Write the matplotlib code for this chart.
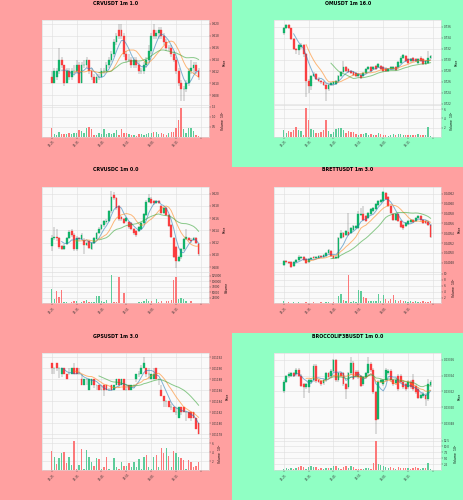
import numpy as np
import pandas as pd
import matplotlib
matplotlib.use('Agg')
import matplotlib.pyplot as plt
from matplotlib.patches import Rectangle
from matplotlib.ticker import MultipleLocator, FuncFormatter, FixedLocator

# x axis labels (1m candles, one label every 10 candles)
time_labels = ['15:25', '15:35', '15:45', '15:55', '16:05', '16:15']

# ---- CRVUSDT 1m ----
crv_open = [0.611,0.610,0.611,0.612,0.614,0.613,0.610,0.612,0.611,0.612,
            0.612,0.613,0.610,0.613,0.613,0.614,0.612,0.611,0.610,0.611,
            0.611,0.612,0.612,0.613,0.614,0.615,0.617,0.619,0.619,0.618,
            0.615,0.614,0.614,0.613,0.614,0.613,0.612,0.612,0.613,0.614,
            0.6155,0.619,0.618,0.6185,0.619,0.618,0.617,0.616,0.616,0.615,
            0.614,0.612,0.610,0.609,0.609,0.610,0.612,0.6125,0.613,0.612]
crv_high = [0.612,0.6125,0.6125,0.616,0.6145,0.613,0.6125,0.6125,0.6125,0.613,
            0.614,0.6135,0.6135,0.614,0.6145,0.614,0.6125,0.6115,0.6115,0.6115,
            0.6125,0.6125,0.6135,0.6145,0.6155,0.6175,0.6185,0.620,0.620,0.6185,
            0.6155,0.615,0.6145,0.6145,0.6145,0.6135,0.6125,0.6135,0.6145,0.6165,
            0.6185,0.620,0.619,0.6195,0.6195,0.6185,0.6175,0.6165,0.6165,0.6155,
            0.6145,0.6125,0.6105,0.6095,0.6105,0.6125,0.614,0.6135,0.6135,0.6125]
crv_low = [0.610,0.610,0.6105,0.6115,0.6125,0.6095,0.610,0.6105,0.6105,0.6115,
           0.6115,0.610,0.610,0.6125,0.6125,0.6115,0.6105,0.610,0.610,0.6105,
           0.611,0.6115,0.612,0.6125,0.6135,0.6145,0.6165,0.6175,0.6175,0.6145,
           0.6135,0.6135,0.6125,0.6125,0.6125,0.6115,0.6115,0.6115,0.6125,0.6135,
           0.615,0.6175,0.6175,0.6175,0.6175,0.6165,0.6155,0.6155,0.6145,0.6135,
           0.6115,0.6095,0.607,0.607,0.6085,0.6095,0.6115,0.6115,0.6115,0.6105]
crv_close = [0.610,0.612,0.612,0.614,0.613,0.610,0.612,0.611,0.612,0.612,
             0.613,0.610,0.613,0.613,0.614,0.612,0.611,0.610,0.611,0.611,
             0.612,0.612,0.613,0.614,0.615,0.617,0.618,0.618,0.618,0.615,
             0.614,0.614,0.613,0.614,0.613,0.612,0.612,0.613,0.614,0.6155,
             0.618,0.618,0.6185,0.619,0.618,0.617,0.616,0.616,0.615,0.614,
             0.612,0.610,0.609,0.609,0.610,0.612,0.6125,0.613,0.612,0.611]
crv_vol = [0.42,0.12,0.08,0.22,0.12,0.12,0.13,0.17,0.13,0.20,
           0.17,0.33,0.28,0.20,0.42,0.47,0.37,0.08,0.08,0.17,
           0.12,0.38,0.13,0.20,0.13,0.17,0.33,0.08,0.37,0.20,
           0.17,0.12,0.10,0.08,0.05,0.13,0.13,0.10,0.13,0.17,
           0.20,0.22,0.25,0.12,0.20,0.13,0.08,0.20,0.25,0.22,
           0.42,0.83,1.45,0.37,0.17,0.45,0.42,0.28,0.08,0.03]

# ---- OMUSDT 1m ----
om_open = [0.7348,0.7357,0.7363,0.7357,0.7338,0.7320,0.7317,0.7323,0.7326,0.7310,
           0.7261,0.7252,0.7270,0.7274,0.7266,0.7262,0.7260,0.7255,0.7247,0.7255,
           0.7256,0.7256,0.7262,0.7270,0.7278,0.7286,0.7283,0.7280,0.7278,0.7276,
           0.7270,0.7273,0.7270,0.7276,0.7283,0.7286,0.7283,0.7289,0.7287,0.7289,
           0.7286,0.7284,0.7280,0.7283,0.7283,0.7286,0.7286,0.7295,0.7303,0.7307,
           0.7301,0.7297,0.7303,0.7301,0.7295,0.7304,0.7301,0.7292,0.7295,0.7303]
om_high = [0.7360,0.7365,0.7365,0.7358,0.7340,0.7322,0.7328,0.7330,0.7328,0.7312,
           0.7265,0.7272,0.7278,0.7276,0.7268,0.7264,0.7262,0.7257,0.7257,0.7260,
           0.7262,0.7264,0.7272,0.7280,0.7298,0.7288,0.7285,0.7282,0.7280,0.7278,
           0.7276,0.7275,0.7278,0.7285,0.7288,0.7288,0.7289,0.7291,0.7295,0.7291,
           0.7288,0.7286,0.7285,0.7288,0.7289,0.7288,0.7297,0.7306,0.7311,0.7309,
           0.7303,0.7303,0.7305,0.7303,0.7303,0.7306,0.7303,0.7300,0.7316,0.7308]
om_low = [0.7345,0.7355,0.7355,0.7335,0.7318,0.7310,0.7308,0.7320,0.7305,0.7233,
          0.7240,0.7245,0.7268,0.7263,0.7259,0.7256,0.7252,0.7225,0.7244,0.7252,
          0.7253,0.7254,0.7258,0.7268,0.7276,0.7278,0.7276,0.7274,0.7271,0.7268,
          0.7268,0.7265,0.7268,0.7274,0.7281,0.7278,0.7281,0.7282,0.7285,0.7281,
          0.7278,0.7278,0.7278,0.7281,0.7281,0.7279,0.7284,0.7293,0.7301,0.7296,
          0.7293,0.7295,0.7296,0.7296,0.7293,0.7296,0.7290,0.7290,0.7293,0.7301]
om_close = [0.7357,0.7363,0.7357,0.7338,0.7320,0.7317,0.7326,0.7326,0.7310,0.7261,
            0.7252,0.7270,0.7274,0.7266,0.7262,0.7260,0.7255,0.7247,0.7255,0.7258,
            0.7259,0.7262,0.7270,0.7278,0.7286,0.7280,0.7278,0.7276,0.7273,0.7270,
            0.7274,0.7267,0.7276,0.7283,0.7286,0.7280,0.7287,0.7284,0.7293,0.7283,
            0.7280,0.7280,0.7283,0.7286,0.7287,0.7281,0.7295,0.7304,0.7309,0.7298,
            0.7295,0.7301,0.7298,0.7298,0.7301,0.7298,0.7292,0.7298,0.7304,0.7306]
om_vol = [1.5,0.8,1.2,1.0,1.5,2.2,1.6,1.3,0.5,6.3,
          3.6,1.8,1.6,0.8,0.8,1.0,1.5,3.6,1.2,0.6,
          1.0,1.8,2.0,2.0,1.6,0.8,1.3,1.0,1.0,0.6,
          0.5,0.7,0.6,0.8,0.5,0.6,0.5,0.5,0.8,0.6,
          0.4,0.4,0.3,0.5,0.6,0.5,0.6,0.7,0.4,0.5,
          0.4,0.4,0.5,0.5,0.6,0.5,0.5,0.4,2.1,0.2]

# ---- CRVUSDC 1m ----
crvc_open = [0.6114,0.6128,0.6130,0.6128,0.6114,0.6110,0.6118,0.6128,0.6139,0.6133,
             0.6109,0.6128,0.6126,0.6125,0.6116,0.6122,0.6110,0.6119,0.6126,0.6136,
             0.6142,0.6148,0.6153,0.6156,0.6171,0.6197,0.61925,0.6179,0.6162,0.6159,
             0.6155,0.6153,0.6152,0.6142,0.6139,0.6139,0.6142,0.6152,0.6165,0.6187,
             0.6191,0.6188,0.6185,0.6188,0.6179,0.6168,0.6176,0.6165,0.6148,0.6128,
             0.6113,0.6090,0.6096,0.6109,0.6126,0.6128,0.6125,0.6124,0.6128,0.6118]
crvc_high = [0.6133,0.6145,0.6142,0.6130,0.6116,0.6118,0.6130,0.6141,0.6142,0.6135,
             0.6131,0.6130,0.6135,0.6127,0.6123,0.6124,0.6121,0.6130,0.6138,0.6145,
             0.6150,0.6157,0.6158,0.6173,0.6205,0.6203,0.6194,0.6181,0.6164,0.6161,
             0.6162,0.6155,0.6154,0.6144,0.6141,0.6147,0.6154,0.6168,0.6189,0.6199,
             0.6195,0.6190,0.6190,0.6190,0.6181,0.6178,0.6178,0.6167,0.6150,0.6130,
             0.6115,0.6098,0.6111,0.6128,0.6142,0.6130,0.6127,0.6130,0.6130,0.6120]
crvc_low = [0.6106,0.6125,0.6123,0.6110,0.6108,0.6108,0.6116,0.6126,0.6130,0.6107,
            0.6107,0.6123,0.6124,0.6102,0.6114,0.6110,0.6108,0.6117,0.6124,0.6134,
            0.6140,0.6146,0.6151,0.6154,0.6169,0.6190,0.6174,0.6156,0.6155,0.6150,
            0.6153,0.6143,0.6140,0.6132,0.6130,0.6137,0.6140,0.6150,0.6163,0.6185,
            0.6183,0.6182,0.6183,0.6183,0.6166,0.6166,0.6163,0.6145,0.6128,0.6095,
            0.6079,0.6088,0.6094,0.6107,0.6124,0.6122,0.6120,0.6122,0.6117,0.6099]
crvc_close = [0.6128,0.6130,0.6128,0.6113,0.6110,0.6114,0.6128,0.6137,0.6133,0.6109,
              0.6128,0.6126,0.6133,0.6116,0.6120,0.6112,0.6119,0.6128,0.6136,0.6143,
              0.6148,0.6155,0.6156,0.6171,0.6195,0.61925,0.6176,0.6159,0.6159,0.6152,
              0.6160,0.6145,0.6142,0.6136,0.6133,0.6145,0.6152,0.6166,0.6187,0.61925,
              0.6185,0.6185,0.6188,0.6185,0.6168,0.6176,0.6165,0.6147,0.6130,0.6097,
              0.6090,0.6096,0.6109,0.6126,0.6130,0.6124,0.6122,0.6128,0.6119,0.6101]
crvc_vol = [64000,20000,57000,28000,60000,8000,5000,3000,8000,9000,
            9000,3000,5000,12000,15000,8000,7000,6000,35000,32000,
            11000,6000,14000,4000,131000,8000,8000,121000,3000,46000,
            4000,4000,3000,3000,2000,8000,6000,10000,22000,10000,
            13000,3000,20000,5000,13000,4000,11000,9000,14000,107000,
            121000,22000,26000,22000,11000,3000,10000,3000,4000,3000]

# ---- BRETTUSDT 1m ----
brett_open = [0.040475,0.040483,0.040482,0.040481,0.040474,0.040481,0.040486,0.040490,0.040492,0.040488,
              0.040482,0.040488,0.040492,0.040490,0.040490,0.040494,0.040492,0.040494,0.040499,0.040504,
              0.040494,0.040490,0.040490,0.040530,0.040540,0.040537,0.040542,0.040540,0.040547,0.040550,
              0.040550,0.040576,0.040578,0.040574,0.040571,0.040579,0.040585,0.040588,0.040597,0.040602,
              0.040605,0.040622,0.040612,0.040595,0.040579,0.040567,0.040578,0.040564,0.040557,0.040554,
              0.040559,0.040563,0.040567,0.040565,0.040571,0.040574,0.040567,0.040565,0.040563,0.040556]
brett_high = [0.040486,0.040485,0.040484,0.040483,0.040484,0.040488,0.040496,0.040494,0.040494,0.040490,
              0.040490,0.040492,0.040494,0.040494,0.040496,0.040495,0.040498,0.040501,0.040508,0.040506,
              0.040496,0.040494,0.040533,0.040547,0.040542,0.040546,0.040581,0.040552,0.040556,0.040556,
              0.040585,0.040590,0.040595,0.040576,0.040583,0.040590,0.040593,0.040600,0.040607,0.040608,
              0.040626,0.040624,0.040614,0.040597,0.040581,0.040580,0.040580,0.040566,0.040559,0.040563,
              0.040567,0.040569,0.040569,0.040573,0.040576,0.040576,0.040569,0.040567,0.040565,0.040558]
brett_low = [0.040473,0.040479,0.040477,0.040470,0.040472,0.040479,0.040484,0.040488,0.040484,0.040477,
             0.040480,0.040486,0.040487,0.040488,0.040488,0.040489,0.040490,0.040492,0.040497,0.040492,
             0.040488,0.040488,0.040488,0.040528,0.040531,0.040535,0.040535,0.040538,0.040545,0.040548,
             0.040548,0.040574,0.040565,0.040562,0.040569,0.040577,0.040583,0.040586,0.040595,0.040600,
             0.040603,0.040606,0.040593,0.040579,0.040565,0.040565,0.040562,0.040550,0.040546,0.040552,
             0.040557,0.040561,0.040561,0.040563,0.040569,0.040565,0.040559,0.040559,0.040555,0.040531]
brett_close = [0.040483,0.040481,0.040479,0.040472,0.040482,0.040486,0.040492,0.040492,0.040486,0.040479,
               0.040488,0.040490,0.040489,0.040492,0.040494,0.040491,0.040496,0.040499,0.040506,0.040494,
               0.040490,0.040492,0.040531,0.040540,0.040533,0.040544,0.040537,0.040550,0.040554,0.040554,
               0.040578,0.040579,0.040567,0.040564,0.040581,0.040588,0.040591,0.040598,0.040605,0.040606,
               0.040624,0.040608,0.040595,0.040581,0.040567,0.040578,0.040564,0.040552,0.040550,0.040561,
               0.040565,0.040567,0.040563,0.040571,0.040574,0.040567,0.040561,0.040561,0.040557,0.040533]
brett_vol = [0.9,0.3,0.4,0.3,0.4,0.3,0.6,0.2,0.3,0.4,
             0.3,0.3,0.5,0.2,0.3,0.5,0.2,0.4,0.5,0.3,
             0.4,0.3,2.5,3.3,1.2,0.8,9.7,0.6,1.0,0.5,
             4.4,4.3,2.3,2.0,0.9,1.0,0.8,1.0,3.1,0.9,
             2.8,1.5,0.8,1.5,3.0,1.3,0.7,1.2,0.8,1.0,
             0.5,0.9,0.4,0.9,0.6,0.5,1.0,0.5,0.4,1.0]

# ---- GPSUSDT 1m ----
gps_open = [0.01191,0.01190,0.01191,0.01190,0.01189,0.01190,0.01189,0.01189,0.01189,0.01190,
            0.01190,0.01189,0.01188,0.01187,0.01188,0.01186,0.01187,0.01188,0.01187,0.01187,
            0.01186,0.01187,0.01187,0.01186,0.01187,0.01186,0.01187,0.01188,0.01187,0.01188,
            0.01186,0.01187,0.01186,0.01187,0.01188,0.01189,0.01189,0.01190,0.01190,0.01189,
            0.01188,0.01188,0.01190,0.01188,0.01186,0.01185,0.01184,0.01184,0.01183,0.01183,
            0.01182,0.01181,0.01183,0.01183,0.01182,0.01182,0.01182,0.01182,0.01181,0.01180]
gps_high = [0.01191,0.01190,0.01191,0.01190,0.01190,0.01190,0.01189,0.01190,0.01190,0.01191,
            0.01190,0.01190,0.01189,0.01188,0.01188,0.01188,0.01188,0.01188,0.01187,0.01187,
            0.01187,0.01187,0.01187,0.011865,0.01187,0.01187,0.01188,0.01188,0.01188,0.01188,
            0.01187,0.01187,0.01187,0.01187,0.01189,0.011895,0.011905,0.01192,0.01190,0.01190,
            0.01189,0.01190,0.01190,0.01188,0.01187,0.01185,0.01184,0.01184,0.011835,0.01183,
            0.01183,0.01183,0.01183,0.01183,0.01182,0.01182,0.01182,0.01182,0.01181,0.01180]
gps_low = [0.01189,0.01189,0.011895,0.011883,0.011885,0.01189,0.01188,0.01189,0.01189,0.01189,
           0.01189,0.01189,0.01187,0.01187,0.01187,0.01186,0.01187,0.011865,0.01186,0.01186,
           0.01186,0.01185,0.01186,0.01186,0.01186,0.01186,0.01187,0.011865,0.01187,0.01186,
           0.01186,0.01186,0.01186,0.011865,0.011875,0.011885,0.01189,0.01190,0.011885,0.01188,
           0.01188,0.01188,0.01188,0.01187,0.01185,0.01183,0.01183,0.01183,0.011825,0.01182,
           0.011815,0.01181,0.011815,0.01182,0.011805,0.01181,0.011805,0.01181,0.01179,0.01178]
gps_close = [0.01190,0.01190,0.01190,0.01190,0.01190,0.01189,0.01188,0.01189,0.01190,0.01189,
             0.01189,0.01189,0.01187,0.01188,0.01188,0.01188,0.01188,0.01187,0.01187,0.01186,
             0.01186,0.01186,0.01186,0.01186,0.01186,0.01187,0.01188,0.01187,0.01188,0.01186,
             0.01186,0.01186,0.01187,0.01187,0.01189,0.01189,0.01190,0.01191,0.01189,0.01189,
             0.01189,0.01189,0.01188,0.01188,0.01185,0.01184,0.01184,0.01183,0.01183,0.01182,
             0.01182,0.01183,0.01182,0.01182,0.01182,0.01181,0.01181,0.01181,0.01179,0.01178]
gps_vol = [4.3,2.9,1.4,2.6,3.7,4.0,1.5,3.0,1.2,6.4,
           0.3,1.2,4.7,0.2,4.5,3.0,1.9,0.9,2.6,2.4,
           0.2,0.8,3.0,0.2,0.1,2.6,0.8,0.2,1.7,0.9,
           1.0,1.6,0.8,1.9,0.7,2.4,0.3,2.8,3.4,0.8,
           0.2,2.8,3.4,0.8,5.0,3.9,4.8,3.2,0.8,4.3,
           3.9,2.8,2.6,2.2,0.3,2.2,1.7,0.7,1.0,1.9]

# ---- BROCCOLIF3BUSDT 1m ----
broc_open = [0.033520,0.033532,0.033539,0.033540,0.033543,0.033542,0.033547,0.033540,0.033529,0.033525,
             0.033525,0.033532,0.033534,0.033552,0.033534,0.033533,0.033530,0.033534,0.033543,0.033540,
             0.033546,0.033560,0.033534,0.033543,0.033543,0.033529,0.033525,0.033543,0.033556,0.033545,
             0.033545,0.033539,0.033529,0.033538,0.033543,0.033555,0.033547,0.033519,0.033486,0.033532,
             0.033529,0.033534,0.033543,0.033546,0.033534,0.033530,0.033540,0.033540,0.033532,0.033529,
             0.033525,0.033532,0.033534,0.033527,0.033523,0.033512,0.033514,0.033516,0.033510,0.033528]
broc_high = [0.033534,0.033541,0.033544,0.033545,0.033545,0.033549,0.033549,0.033542,0.033531,0.033531,
             0.033536,0.033537,0.033554,0.033554,0.033536,0.033535,0.033536,0.033545,0.033545,0.033548,
             0.033561,0.033561,0.033545,0.033545,0.033545,0.033531,0.033545,0.033563,0.033558,0.033547,
             0.033547,0.033541,0.033540,0.033545,0.033563,0.033557,0.033549,0.033521,0.033534,0.033536,
             0.033536,0.033549,0.033548,0.033548,0.033536,0.033536,0.033542,0.033542,0.033534,0.033531,
             0.033534,0.033534,0.033542,0.033529,0.033525,0.033518,0.033519,0.033518,0.033536,0.033534]
broc_low = [0.033518,0.033530,0.033537,0.033538,0.033538,0.033540,0.033538,0.033525,0.033512,0.033523,
            0.033518,0.033530,0.033532,0.033531,0.033530,0.033527,0.033528,0.033532,0.033536,0.033538,
            0.033544,0.033532,0.033532,0.033538,0.033527,0.033510,0.033523,0.033541,0.033534,0.033537,
            0.033536,0.033525,0.033527,0.033536,0.033541,0.033545,0.033517,0.033466,0.033484,0.033530,
            0.033527,0.033532,0.033541,0.033532,0.033527,0.033528,0.033521,0.033530,0.033523,0.033521,
            0.033523,0.033523,0.033521,0.033517,0.033510,0.033510,0.033512,0.033502,0.033508,0.033526]
broc_close = [0.033532,0.033539,0.033542,0.033543,0.033540,0.033547,0.033540,0.033527,0.033525,0.033529,
              0.033534,0.033535,0.033552,0.033533,0.033532,0.033529,0.033534,0.033543,0.033538,0.033546,
              0.033560,0.033534,0.033543,0.033540,0.033529,0.033523,0.033543,0.033556,0.033536,0.033539,
              0.033538,0.033527,0.033538,0.033543,0.033555,0.033547,0.033519,0.033484,0.033532,0.033534,
              0.033534,0.033547,0.033546,0.033534,0.033529,0.033534,0.033523,0.033532,0.033525,0.033523,
              0.033532,0.033525,0.033523,0.033519,0.033512,0.033516,0.033517,0.033510,0.033529,0.033532]
broc_vol = [0.5,0.8,0.6,0.8,0.7,0.9,1.5,1.6,1.4,0.5,
            1.2,1.7,1.5,1.3,0.6,0.8,0.4,0.9,1.0,0.8,
            1.7,1.6,0.9,0.5,1.3,1.8,0.8,1.6,1.4,0.5,
            0.7,0.4,0.5,1.0,1.1,0.6,3.1,12.2,2.6,2.4,
            2.0,1.5,0.9,1.2,0.8,0.7,1.3,1.0,0.9,1.1,
            0.8,0.6,0.9,1.2,1.0,0.7,0.9,0.8,3.2,0.4]

# colours (yahoo-like market colours)
UP, DOWN, WICK = '#00b060', '#fe3032', '#606060'
VUP, VDOWN = '#4dc790', '#fd6b6c'
RED_BG, GREEN_BG = '#ffa0a0', '#90ffc4'
MAV = [(5, '#1f77b4'), (10, '#ff7f0e'), (20, '#2ca02c')]

fig = plt.figure(figsize=(4.64, 5.0), dpi=100)


def draw_panel(col, row, title, bg, o, h, l, c, v, pstep, pfmt, vstep, vfmt, vlabel):
    x0 = col * 0.5
    top = 1 - row / 3.0
    fig.add_artist(Rectangle((x0, top - 1 / 3.0), 0.5, 1 / 3.0, transform=fig.transFigure,
                             facecolor=bg, edgecolor='none', zorder=-10))
    fig.text(x0 + 0.25, top - 0.0065, title, ha='center', va='center',
             fontsize=3.4, fontweight='bold')

    ax = fig.add_axes([x0 + 0.09, top - 0.21, 0.3605, 0.17])
    axv = fig.add_axes([x0 + 0.09, top - 0.2733, 0.3605, 0.0633], sharex=ax)

    o, h, l, c, v = map(np.array, (o, h, l, c, v))
    x = np.arange(len(o))
    up = c >= o

    # candles
    ax.vlines(x, l, h, color=WICK, lw=0.3, zorder=2)
    ccol = np.where(up, UP, DOWN)
    ax.bar(x, np.abs(c - o), bottom=np.minimum(o, c), width=0.72, color=ccol,
           edgecolor=ccol, linewidth=0.25, alpha=0.9, zorder=3)

    # moving averages
    s = pd.Series(c)
    for n, mc in MAV:
        ax.plot(x, s.rolling(n).mean(), color=mc, lw=0.7, alpha=0.55, zorder=4)

    span = h.max() - l.min()
    ax.set_ylim(l.min() - 0.05 * span, h.max() + 0.05 * span)
    ax.set_xlim(-4, len(o) + 3.2)
    ax.yaxis.set_major_locator(MultipleLocator(pstep))
    ax.yaxis.set_major_formatter(FuncFormatter(lambda val, pos: pfmt % val))

    # volume
    vcol = np.where(up, VUP, VDOWN)
    axv.bar(x, v, width=0.55, color=vcol, alpha=0.9, zorder=3)
    axv.set_ylim(0.3 * v.min(), 1.1 * v.max())
    axv.yaxis.set_major_locator(MultipleLocator(vstep))
    axv.yaxis.set_major_formatter(FuncFormatter(lambda val, pos: vfmt % val))

    ticks = list(range(0, 61, 10))
    axv.xaxis.set_major_locator(FixedLocator(ticks))
    axv.set_xticklabels(time_labels + [''], rotation=45, fontsize=2.0)

    for a in (ax, axv):
        a.set_facecolor('#fafafa')
        a.set_axisbelow(True)
        a.grid(True, color='#dedede', lw=0.4)
        a.yaxis.tick_right()
        a.yaxis.set_label_position('right')
        a.tick_params(labelsize=2.0, length=1.2, width=0.3, pad=1, colors='#333333')
        for sp in a.spines.values():
            sp.set_color('#d8d8d8')
            sp.set_linewidth(0.4)
    ax.tick_params(labelbottom=False, bottom=False)
    ax.set_ylabel('Price', fontsize=2.2, labelpad=2)
    axv.set_ylabel(vlabel, fontsize=2.2, labelpad=2)


draw_panel(0, 0, 'CRVUSDT 1m 1.0', RED_BG, crv_open, crv_high, crv_low, crv_close, crv_vol,
           0.002, '%.3f', 0.5, '%.1f', 'Volume  $10^{6}$')
draw_panel(1, 0, 'OMUSDT 1m 16.0', GREEN_BG, om_open, om_high, om_low, om_close, om_vol,
           0.002, '%.3f', 2, '%.0f', 'Volume  $10^{5}$')
draw_panel(0, 1, 'CRVUSDC 1m 0.0', RED_BG, crvc_open, crvc_high, crvc_low, crvc_close, crvc_vol,
           0.002, '%.3f', 25000, '%.0f', 'Volume')
draw_panel(1, 1, 'BRETTUSDT 1m 3.0', RED_BG, brett_open, brett_high, brett_low, brett_close, brett_vol,
           0.00002, '%.5f', 2, '%.0f', 'Volume  $10^{6}$')
draw_panel(0, 2, 'GPSUSDT 1m 3.0', RED_BG, gps_open, gps_high, gps_low, gps_close, gps_vol,
           0.00002, '%.5f', 2, '%.0f', 'Volume  $10^{6}$')
draw_panel(1, 2, 'BROCCOLIF3BUSDT 1m 0.0', GREEN_BG, broc_open, broc_high, broc_low, broc_close, broc_vol,
           0.00002, '%.5f', 2.5, '%.1f', 'Volume  $10^{5}$')

fig.savefig('out.png', dpi=100)
